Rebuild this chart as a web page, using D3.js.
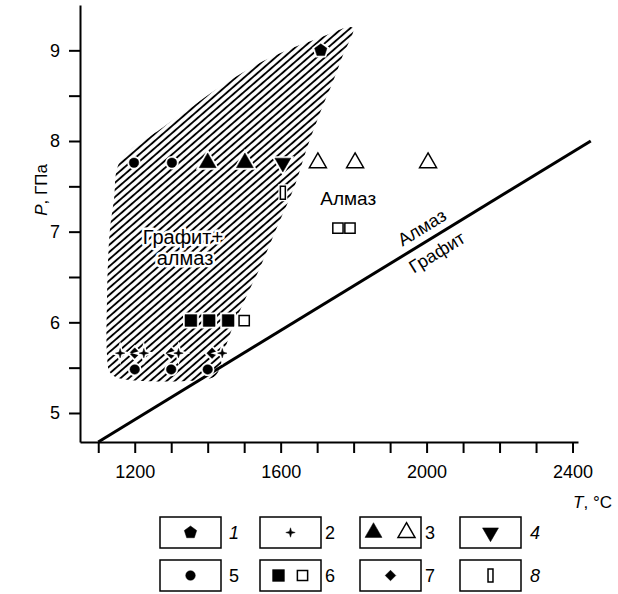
<!DOCTYPE html>
<html>
<head>
<meta charset="utf-8">
<script src="https://cdn.jsdelivr.net/npm/d3@7"></script>
<style>
  body { margin: 0; background: #fff; }
  svg { font-family: "Liberation Sans", Arial, sans-serif; }
</style>
</head>
<body>
<svg id="chart" width="618" height="594"></svg>
<script>
// --- data (T in °C, P in GPa) ---
const tempTicks = [1200, 1600, 2000, 2400];
const pressTicks = [5, 6, 7, 8, 9];

// diamond / graphite equilibrium line
const boundary = [[1100, 4.68], [2450, 8.0]];

// outline of the "graphite + diamond" field
const field = [
  [1798, 9.25], [1771, 8.95], [1743, 8.65], [1713, 8.36], [1672, 7.92],
  [1639, 7.51], [1590, 7.05], [1543, 6.60], [1502, 6.25], [1469, 5.95],
  [1447, 5.70], [1428, 5.45], [1412, 5.39], [1160, 5.38], [1132, 5.45],
  [1124, 5.64], [1124, 6.25], [1127, 6.69], [1132, 7.02], [1143, 7.35],
  [1160, 7.78], [1277, 8.15], [1357, 8.38], [1420, 8.56], [1524, 8.82],
  [1617, 9.00], [1689, 9.11]
];

const pts1 = [[1710, 9.0]];
const pts2 = [[1160, 5.66], [1225, 5.66], [1320, 5.66], [1440, 5.66]];
const pts3Filled = [[1400, 7.76], [1502, 7.76]];
const pts3Open = [[1702, 7.76], [1804, 7.76], [2004, 7.76]];
const pts4 = [[1606, 7.76]];
const pts5 = [[1198, 7.76], [1302, 7.76], [1200, 5.48], [1300, 5.48], [1400, 5.48]];
const pts6Filled = [[1354, 6.02], [1404, 6.02], [1456, 6.02]];
const pts6Open = [[1500, 6.02], [1757, 7.04], [1790, 7.04]];
const pts7 = [[1200, 5.66], [1300, 5.66], [1412, 5.66]];
const pts8 = [[1606, 7.43]];

const legendLabels = ['1', '2', '3', '4', '5', '6', '7', '8'];

// --- setup ---
const svg = d3.select('#chart');
const x = d3.scaleLinear().domain([1050, 2415]).range([80, 578]);
const y = d3.scaleLinear().domain([4.68, 9.5]).range([442, 5]);

const defs = svg.append('defs');
const hatch = defs.append('pattern')
  .attr('id', 'hatch')
  .attr('patternUnits', 'userSpaceOnUse')
  .attr('width', 10).attr('height', 5.4)
  .attr('patternTransform', 'rotate(-41)');
hatch.append('line')
  .attr('x1', 0).attr('x2', 10).attr('y1', 2.7).attr('y2', 2.7)
  .attr('stroke', '#000').attr('stroke-width', 1.9);

// hatched field
svg.append('path')
  .datum(field)
  .attr('d', d3.line().x(d => x(d[0])).y(d => y(d[1])).curve(d3.curveCatmullRomClosed))
  .attr('fill', 'url(#hatch)');

// equilibrium line
svg.append('path')
  .datum(boundary)
  .attr('d', d3.line().x(d => x(d[0])).y(d => y(d[1])))
  .attr('stroke', '#000').attr('stroke-width', 3).attr('fill', 'none');

// --- axes ---
const xAxis = d3.axisBottom(x)
  .tickValues(d3.range(1100, 2401, 100))
  .tickSize(11).tickSizeOuter(0).tickPadding(12)
  .tickFormat(d => tempTicks.includes(d) ? d : '');
const yAxis = d3.axisLeft(y)
  .tickValues(d3.range(5, 9.01, 0.5))
  .tickSize(11).tickSizeOuter(0).tickPadding(9)
  .tickFormat(d => pressTicks.includes(d) ? d : '');

[svg.append('g').attr('transform', 'translate(0,442)').call(xAxis),
 svg.append('g').attr('transform', 'translate(80,0)').call(yAxis)].forEach(g => {
  g.selectAll('path, line').attr('stroke', '#000').attr('stroke-width', 2);
  g.selectAll('text').attr('font-size', 18).attr('fill', '#000')
    .attr('font-family', '"Liberation Sans", Arial, sans-serif');
});

svg.append('text')
  .attr('transform', 'translate(47,190) rotate(-90)')
  .attr('text-anchor', 'middle').attr('font-size', 17)
  .html('<tspan font-style="italic">P</tspan>, ГПа');
svg.append('text')
  .attr('x', 612).attr('y', 508)
  .attr('text-anchor', 'end').attr('font-size', 17)
  .html('<tspan font-style="italic">T</tspan>, °C');

// --- field labels ---
function label(txt, tx, ty, size) {
  svg.append('text')
    .attr('x', tx).attr('y', ty)
    .attr('text-anchor', 'middle').attr('font-size', size)
    .attr('stroke', '#fff').attr('stroke-width', 5).attr('paint-order', 'stroke')
    .attr('stroke-linejoin', 'round')
    .text(txt);
}
label('Графит+', x(1332), y(6.94) + 7, 20);
label('алмаз', x(1338), y(6.71) + 7, 20);
label('Алмаз', x(1785), y(7.37) + 7, 19);

// labels along the equilibrium line
{
  const p0 = [x(boundary[0][0]), y(boundary[0][1])];
  const p1 = [x(boundary[1][0]), y(boundary[1][1])];
  const ang = Math.atan2(p1[1] - p0[1], p1[0] - p0[0]);
  const along = 388;
  const cx = p0[0] + along * Math.cos(ang), cy = p0[1] + along * Math.sin(ang);
  const g = svg.append('g')
    .attr('transform', `translate(${cx},${cy}) rotate(${ang * 180 / Math.PI})`);
  g.append('text').attr('text-anchor', 'middle').attr('font-size', 18).attr('y', -8).text('Алмаз');
  g.append('text').attr('text-anchor', 'middle').attr('font-size', 18).attr('y', 21).text('Графит');
}

// --- marker shapes ---
const pentagon = {
  draw(ctx, size) {
    const r = Math.sqrt(size);
    for (let i = 0; i < 5; i++) {
      const a = -Math.PI / 2 + i * 2 * Math.PI / 5;
      i ? ctx.lineTo(r * Math.cos(a), r * Math.sin(a)) : ctx.moveTo(r * Math.cos(a), r * Math.sin(a));
    }
    ctx.closePath();
  }
};
const star4 = {
  draw(ctx, size) {
    const r = Math.sqrt(size), ri = r * 0.32;
    for (let i = 0; i < 8; i++) {
      const a = -Math.PI / 2 + i * Math.PI / 4;
      const rr = i % 2 ? ri : r;
      i ? ctx.lineTo(rr * Math.cos(a), rr * Math.sin(a)) : ctx.moveTo(rr * Math.cos(a), rr * Math.sin(a));
    }
    ctx.closePath();
  }
};
const rhomb = {
  draw(ctx, size) {
    const r = Math.sqrt(size);
    ctx.moveTo(0, -r); ctx.lineTo(r, 0); ctx.lineTo(0, r); ctx.lineTo(-r, 0); ctx.closePath();
  }
};
const slot = {
  draw(ctx, size) {
    const h = Math.sqrt(size), w = h * 0.38;
    ctx.moveTo(-w / 2, -h / 2); ctx.lineTo(w / 2, -h / 2); ctx.lineTo(w / 2, h / 2);
    ctx.lineTo(-w / 2, h / 2); ctx.closePath();
  }
};

const styles = {
  s1: { type: pentagon, size: 42, filled: true },
  s2: { type: star4, size: 22, filled: true },
  s3f: { type: d3.symbolTriangle, size: 125, filled: true },
  s3o: { type: d3.symbolTriangle, size: 125, filled: false },
  s4: { type: d3.symbolTriangle, size: 110, filled: true, rot: 180 },
  s5: { type: d3.symbolCircle, size: 72, filled: true },
  s6f: { type: d3.symbolSquare, size: 140, filled: true },
  s6o: { type: d3.symbolSquare, size: 105, filled: false },
  s7: { type: rhomb, size: 28, filled: true },
  s8: { type: slot, size: 170, filled: false }
};

function drawMarks(data, st, parent = svg) {
  const path = d3.symbol().type(st.type).size(st.size)();
  const tf = d => `translate(${d[0]},${d[1]})${st.rot ? ` rotate(${st.rot})` : ''}`;
  const g = parent.append('g');
  g.selectAll('.halo').data(data).join('path')
    .attr('d', path).attr('transform', tf)
    .attr('fill', '#fff').attr('stroke', '#fff').attr('stroke-width', 4);
  g.selectAll('.mark').data(data).join('path')
    .attr('d', path).attr('transform', tf)
    .attr('fill', st.filled ? '#000' : '#fff')
    .attr('stroke', '#000').attr('stroke-width', st.filled ? 0.5 : 1.5)
    .attr('stroke-linejoin', 'miter');
}
const px = arr => arr.map(d => [x(d[0]), y(d[1])]);

drawMarks(px(pts5), styles.s5);
drawMarks(px(pts7), styles.s7);
drawMarks(px(pts2), styles.s2);
drawMarks(px(pts6Filled), styles.s6f);
drawMarks(px(pts6Open), styles.s6o);
drawMarks(px(pts3Filled), styles.s3f);
drawMarks(px(pts3Open), styles.s3o);
drawMarks(px(pts4), styles.s4);
drawMarks(px(pts8), styles.s8);
drawMarks(px(pts1), styles.s1);

// --- legend ---
const legendMarks = [
  [['s1', 0]], [['s2', 0]], [['s3f', -17], ['s3o', 16]], [['s4', 0]],
  [['s5', 0]], [['s6f', -12], ['s6o', 12]], [['s7', 0]], [['s8', 0]]
];
const italic = ['1', '4', '8'];
const labelGap = [69, 65, 65, 70];
legendLabels.forEach((lab, i) => {
  const col = i % 4, row = Math.floor(i / 4);
  const bx = 160 + col * 100, by = 517 + row * 43;
  const g = svg.append('g');
  g.append('rect').attr('x', bx).attr('y', by).attr('width', 61).attr('height', 31)
    .attr('fill', '#fff').attr('stroke', '#000').attr('stroke-width', 1.5);
  legendMarks[i].forEach(([k, dx]) => drawMarks([[bx + 30.5 + dx, by + 15.5]], styles[k], g));
  g.append('text').attr('x', bx + labelGap[col]).attr('y', by + 22)
    .attr('font-size', 18).attr('font-style', italic.includes(lab) ? 'italic' : 'normal')
    .text(lab);
});
</script>
</body>
</html>
